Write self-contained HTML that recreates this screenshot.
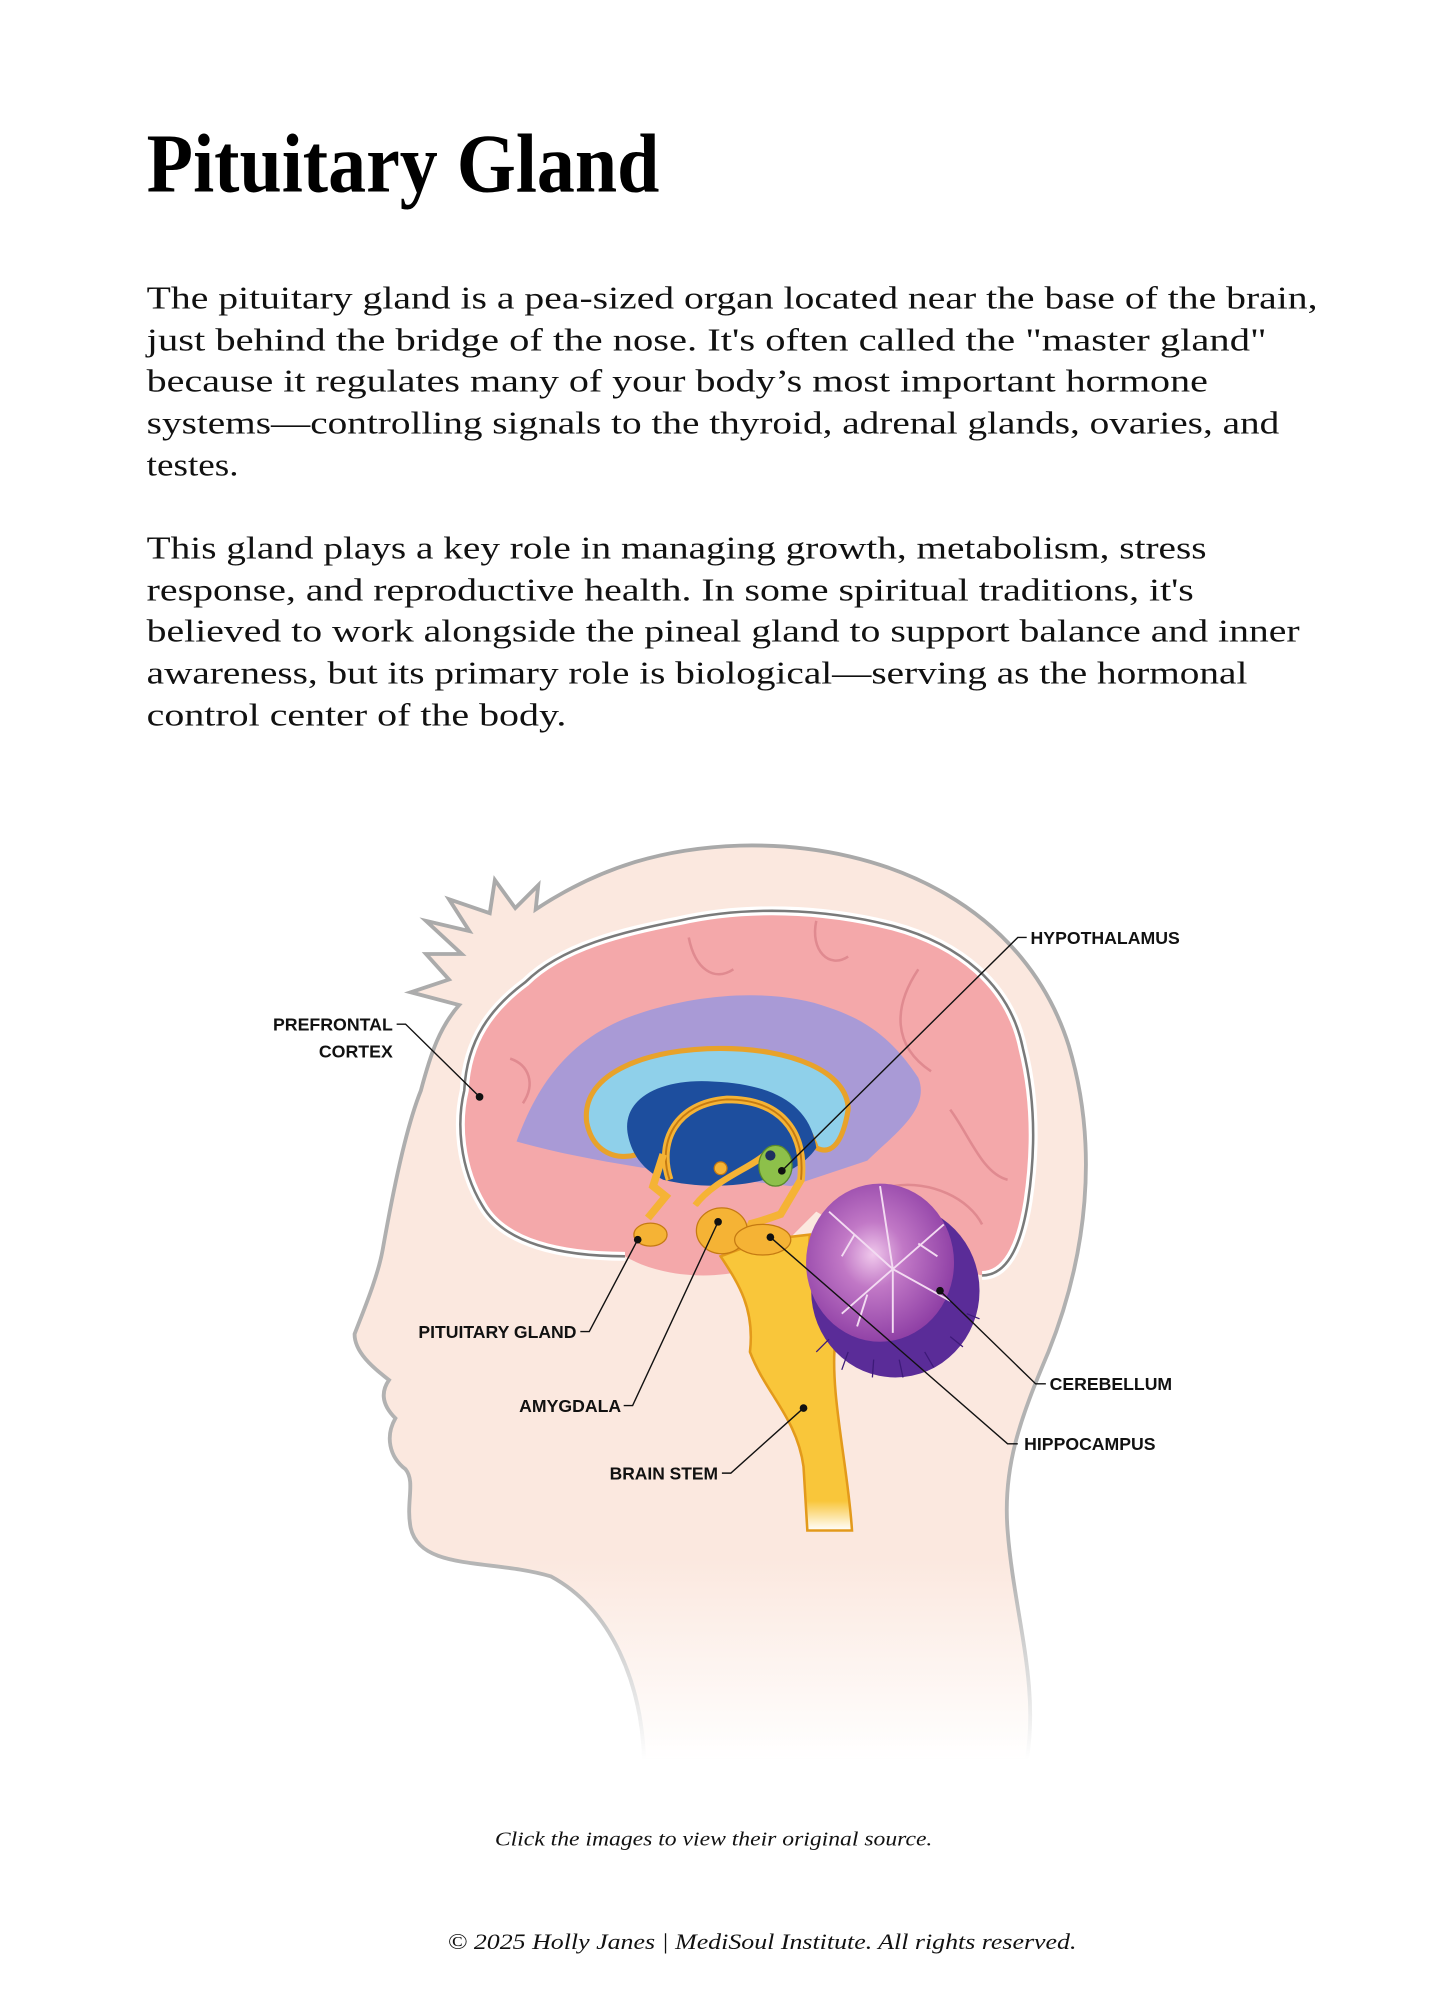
<!DOCTYPE html>
<html><head><meta charset="utf-8"><style>html,body{margin:0;padding:0;background:#fff}svg{display:block}</style></head>
<body>
<svg width="1454" height="2000" viewBox="0 0 1140 1568.1" xmlns="http://www.w3.org/2000/svg">
<defs>
<linearGradient id="fade" x1="0" y1="0" x2="0" y2="1">
<stop offset="0" stop-color="#fbe8df"/><stop offset="0.78" stop-color="#fbe8df"/><stop offset="1" stop-color="#ffffff"/>
</linearGradient>
<linearGradient id="sfade" x1="0" y1="0" x2="0" y2="1">
<stop offset="0" stop-color="#a9a9a9"/><stop offset="0.8" stop-color="#b5b5b5"/><stop offset="1" stop-color="#ffffff"/>
</linearGradient>
<linearGradient id="stem" x1="0" y1="0" x2="0" y2="1">
<stop offset="0" stop-color="#f9c63a"/><stop offset="0.9" stop-color="#f9c63a"/><stop offset="1" stop-color="#fff"/>
</linearGradient>
<radialGradient id="cb" cx="0.45" cy="0.45" r="0.6">
<stop offset="0" stop-color="#f0c8ec"/><stop offset="0.35" stop-color="#c178c6"/><stop offset="1" stop-color="#8a3aa2"/>
</radialGradient>
</defs>
<rect width="1140" height="1568.1" fill="#fff"/>

<text x="115" y="150" font-family="Liberation Serif, serif" font-weight="bold" font-size="66" textLength="402" lengthAdjust="spacingAndGlyphs" fill="#000">Pituitary Gland</text>

<g font-family="Liberation Serif, serif" font-size="25" fill="#111">
<text x="115" y="242" textLength="918" lengthAdjust="spacingAndGlyphs">The pituitary gland is a pea-sized organ located near the base of the brain,</text>
<text x="115" y="275" textLength="878" lengthAdjust="spacingAndGlyphs">just behind the bridge of the nose. It's often called the "master gland"</text>
<text x="115" y="307" textLength="832" lengthAdjust="spacingAndGlyphs">because it regulates many of your body’s most important hormone</text>
<text x="115" y="340" textLength="888" lengthAdjust="spacingAndGlyphs">systems—controlling signals to the thyroid, adrenal glands, ovaries, and</text>
<text x="115" y="373" textLength="72" lengthAdjust="spacingAndGlyphs">testes.</text>
<text x="115" y="438" textLength="831" lengthAdjust="spacingAndGlyphs">This gland plays a key role in managing growth, metabolism, stress</text>
<text x="115" y="471" textLength="821" lengthAdjust="spacingAndGlyphs">response, and reproductive health. In some spiritual traditions, it's</text>
<text x="115" y="503" textLength="904" lengthAdjust="spacingAndGlyphs">believed to work alongside the pineal gland to support balance and inner</text>
<text x="115" y="536" textLength="863" lengthAdjust="spacingAndGlyphs">awareness, but its primary role is biological—serving as the hormonal</text>
<text x="115" y="569" textLength="329" lengthAdjust="spacingAndGlyphs">control center of the body.</text>
</g>

<!-- head -->
<path d="M 505,1380 C 503,1320 480,1262 432,1236 C 385,1222 330,1232 322,1198 C 318,1178 326,1162 318,1152 C 305,1142 302,1126 310,1112 C 300,1102 298,1092 305,1082 C 292,1072 278,1060 278,1046 C 284,1030 296,1002 300,980 C 308,935 318,885 330,855 C 338,825 345,805 360,788 L 322,778 L 352,768 L 334,748 L 362,748 L 334,722 L 368,730 L 352,705 L 384,716 L 388,690 L 404,712 L 422,694 L 420,713 C 470,680 520,665 580,663 C 700,660 805,715 838,820 C 862,900 852,985 822,1060 C 800,1112 786,1150 790,1200 C 795,1265 815,1320 805,1380 Z" fill="url(#fade)" stroke="url(#sfade)" stroke-width="3"/>

<!-- cortex -->
<path d="M 490,985 C 440,985 395,975 378,945 C 360,915 358,880 364,855 C 366,815 385,790 412,770 C 440,742 490,730 532,722 C 585,710 645,712 700,726 C 752,740 792,772 802,822 C 812,862 812,902 806,942 C 800,980 788,1000 770,1000 L 700,985 L 640,950 L 600,990 C 570,1005 520,1003 490,985 Z" fill="#f4a8aa"/>
<path d="M 490,985 C 440,985 395,975 378,945 C 360,915 358,880 364,855 C 366,815 385,790 412,770 C 440,742 490,730 532,722 C 585,710 645,712 700,726 C 752,740 792,772 802,822 C 812,862 812,902 806,942 C 800,980 788,1000 770,1000" fill="none" stroke="#ffffff" stroke-width="7"/>
<path d="M 490,985 C 440,985 395,975 378,945 C 360,915 358,880 364,855 C 366,815 385,790 412,770 C 440,742 490,730 532,722 C 585,710 645,712 700,726 C 752,740 792,772 802,822 C 812,862 812,902 806,942 C 800,980 788,1000 770,1000" fill="none" stroke="#7a7a7a" stroke-width="2"/>
<g fill="none" stroke="#e08a90" stroke-width="2">
<path d="M 540,735 C 545,760 560,770 575,760"/><path d="M 640,722 C 635,745 650,760 665,750"/>
<path d="M 720,760 C 700,790 700,820 730,840"/><path d="M 745,870 C 760,890 770,920 790,925"/>
<path d="M 400,830 C 415,835 420,850 410,865"/><path d="M 700,930 C 730,925 760,940 770,960"/>
</g>

<!-- lavender -->
<path d="M 405,895 C 418,860 440,815 500,795 C 550,778 610,775 650,790 C 680,800 700,815 720,845 C 730,870 700,890 680,910 L 620,930 L 520,918 C 480,912 440,905 405,895 Z" fill="#a99ad6"/>
<path d="M 410,900 C 440,905 470,910 510,930 C 490,945 440,950 410,935 Z" fill="#f4a8aa"/>

<!-- corpus callosum -->
<path d="M 460,880 C 455,840 510,822 565,822 C 620,822 665,840 665,870 C 660,900 650,905 640,900 C 630,870 600,850 560,852 C 520,852 490,870 500,905 C 485,910 465,905 460,880 Z" fill="#8fd0ea" stroke="#e8a22a" stroke-width="4"/>
<path d="M 492,888 C 488,860 520,845 560,848 C 605,850 635,865 640,900 C 620,930 560,935 520,925 C 500,915 494,900 492,888 Z" fill="#1d4e9e"/>
<path d="M 525,925 C 515,895 530,865 570,862 C 610,862 632,885 628,925 L 612,952 C 590,960 575,965 560,958" fill="none" stroke="#f5b335" stroke-width="6"/>
<path d="M 525,925 C 515,895 530,865 570,862 C 610,862 632,885 628,925" fill="none" stroke="#c57a12" stroke-width="1.5"/>
<path d="M 520,905 L 512,930 L 522,938 L 508,955" fill="none" stroke="#f5b335" stroke-width="6"/>
<path d="M 545,945 C 560,925 590,915 600,905" fill="none" stroke="#f5b335" stroke-width="5"/>
<circle cx="565" cy="916" r="5" fill="#f5b335" stroke="#c57a12"/>

<!-- thalamus pink lower -->
<path d="M 520,965 C 530,945 565,938 590,950 L 570,995 C 545,1000 520,990 520,965 Z" fill="#f4a8aa"/>

<!-- hypothalamus -->
<ellipse cx="608" cy="914" rx="13" ry="16" fill="#8dc04a" stroke="#5a8a2a"/>
<circle cx="604" cy="906" r="4" fill="#1d3060"/>

<!-- brainstem -->
<path d="M 565,985 C 578,1005 592,1025 588,1060 C 600,1092 625,1112 630,1150 L 633,1200 L 668,1200 C 665,1150 650,1090 655,1050 C 645,1010 632,995 635,968 L 600,972 Z" fill="url(#stem)" stroke="#e39a1b" stroke-width="2"/>

<!-- cerebellum -->
<ellipse cx="702" cy="1012" rx="66" ry="68" fill="#5a2c98"/>
<g stroke="#3d1a78" stroke-width="1" fill="none">
<path d="M 650,1050 L 640,1060 M 665,1060 L 660,1074 M 685,1066 L 684,1080 M 705,1066 L 708,1080 M 725,1060 L 732,1072 M 745,1048 L 755,1056 M 758,1030 L 768,1034"/>
</g>
<ellipse cx="690" cy="990" rx="58" ry="62" fill="url(#cb)"/>
<g stroke="#f3dbf2" stroke-width="1.5" fill="none">
<path d="M 700,995 L 650,950 M 700,995 L 690,930 M 700,995 L 740,960 M 700,995 L 745,1020 M 700,995 L 660,1030 M 700,995 L 700,1045 M 670,968 L 660,985 M 720,975 L 735,985 M 680,1015 L 672,1040"/>
</g>

<!-- pituitary / amygdala / hippocampus -->
<ellipse cx="510" cy="968" rx="13" ry="9" fill="#f5b335" stroke="#c57a12"/>
<ellipse cx="566" cy="965" rx="20" ry="18" fill="#f5b335" stroke="#c57a12"/>
<ellipse cx="598" cy="972" rx="22" ry="12" fill="#f5b335" stroke="#c57a12"/>

<!-- leaders -->
<g stroke="#111" stroke-width="1.1" fill="none">
<path d="M 805,735 L 798,735 L 613,918"/>
<path d="M 311,803 L 318,803 L 376,860"/>
<path d="M 455,1044 L 462,1044 L 500,972"/>
<path d="M 489,1102 L 496,1102 L 563,958"/>
<path d="M 566,1155 L 573,1155 L 630,1104"/>
<path d="M 820,1085 L 812,1085 L 737,1012"/>
<path d="M 798,1132 L 790,1132 L 604,970"/>
</g>
<g fill="#111">
<circle cx="613" cy="918" r="3"/><circle cx="376" cy="860" r="3"/><circle cx="500" cy="972" r="3"/>
<circle cx="563" cy="958" r="3"/><circle cx="630" cy="1104" r="3"/><circle cx="737" cy="1012" r="3"/><circle cx="604" cy="970" r="3"/>
</g>
<g font-family="Liberation Sans, sans-serif" font-weight="bold" font-size="14" fill="#111">
<text x="808" y="740" textLength="117" lengthAdjust="spacingAndGlyphs">HYPOTHALAMUS</text>
<text x="308" y="808" text-anchor="end" textLength="94" lengthAdjust="spacingAndGlyphs">PREFRONTAL</text>
<text x="308" y="829" text-anchor="end" textLength="58" lengthAdjust="spacingAndGlyphs">CORTEX</text>
<text x="452" y="1049" text-anchor="end" textLength="124" lengthAdjust="spacingAndGlyphs">PITUITARY GLAND</text>
<text x="487" y="1107" text-anchor="end" textLength="80" lengthAdjust="spacingAndGlyphs">AMYGDALA</text>
<text x="563" y="1160" text-anchor="end" textLength="85" lengthAdjust="spacingAndGlyphs">BRAIN STEM</text>
<text x="823" y="1090" textLength="96" lengthAdjust="spacingAndGlyphs">CEREBELLUM</text>
<text x="803" y="1137" textLength="103" lengthAdjust="spacingAndGlyphs">HIPPOCAMPUS</text>
</g>

<text x="388" y="1447" font-family="Liberation Serif, serif" font-style="italic" font-size="16" textLength="343" lengthAdjust="spacingAndGlyphs" fill="#111">Click the images to view their original source.</text>
<text x="351" y="1528" font-family="Liberation Serif, serif" font-style="italic" font-size="17" textLength="493" lengthAdjust="spacingAndGlyphs" fill="#111">© 2025 Holly Janes | MediSoul Institute. All rights reserved.</text>
</svg>
</body></html>
